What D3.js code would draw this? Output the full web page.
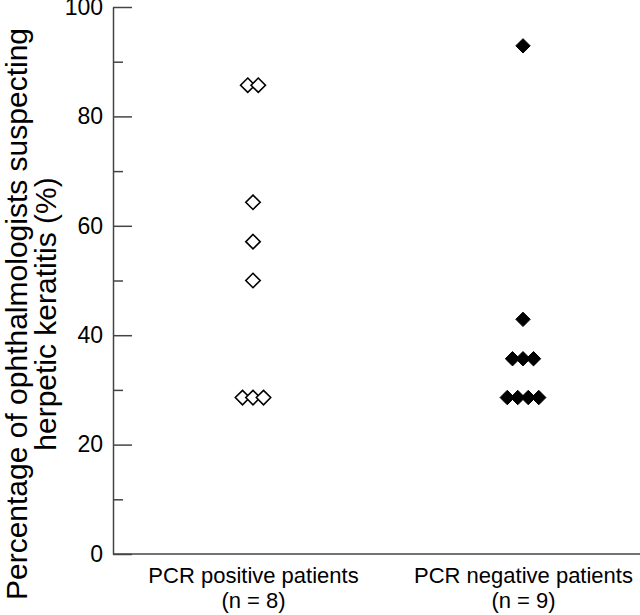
<!DOCTYPE html>
<html>
<head>
<meta charset="utf-8">
<script src="https://cdn.jsdelivr.net/npm/d3@7"></script>
<style>
  html, body { margin: 0; padding: 0; background: #fff; }
  svg { display: block; }
  text { font-family: "Liberation Sans", Arial, Helvetica, sans-serif; fill: #000; }
</style>
</head>
<body>
<svg id="chart" width="640" height="615"></svg>
<script>
// ---- data ----
const categories = ["PCR positive patients", "PCR negative patients"];
const groupN = ["(n = 8)", "(n = 9)"];
const positiveValues = [85.7, 85.7, 64.3, 57.1, 50.0, 28.6, 28.6, 28.6];
const negativeValues = [92.9, 42.9, 35.7, 35.7, 35.7, 28.6, 28.6, 28.6, 28.6];
const majorTicks = [0, 20, 40, 60, 80, 100];
const minorTicks = [10, 30, 50, 70, 90];
const yTitle = ["Percentage of ophthalmologists suspecting", "herpetic keratitis (%)"];

// ---- layout ----
const svg = d3.select("#chart");
const axisX = 113, axisBottom = 554, axisTop = 7, rightEdge = 640;
const y = d3.scaleLinear().domain([0, 100]).range([axisBottom, axisTop]);
const x = d3.scalePoint().domain(categories).range([253, 523]);
const spacing = 10.5;
const half = 7.2;

// y axis (major)
const gY = svg.append("g").attr("transform", `translate(${axisX},0)`)
  .call(d3.axisLeft(y).tickValues(majorTicks).tickFormat(d3.format("d"))
    .tickSizeInner(-19).tickSizeOuter(0).tickPadding(10));
gY.select(".domain").attr("stroke", "#444").attr("stroke-width", 1.5);
gY.selectAll(".tick line").attr("stroke", "#444").attr("stroke-width", 1.5);
gY.selectAll(".tick text").style("font-size", "23px")
  .style("font-family", '"Liberation Sans", Arial, sans-serif').attr("fill", "#000");

// y axis (minor)
const gYm = svg.append("g").attr("transform", `translate(${axisX},0)`)
  .call(d3.axisLeft(y).tickValues(minorTicks).tickFormat("")
    .tickSizeInner(-10).tickSizeOuter(0));
gYm.select(".domain").remove();
gYm.selectAll(".tick line").attr("stroke", "#444").attr("stroke-width", 1.5);

// x axis line + labels
svg.append("line").attr("x1", axisX).attr("x2", rightEdge)
  .attr("y1", axisBottom).attr("y2", axisBottom)
  .attr("stroke", "#444").attr("stroke-width", 1.5);
const gX = svg.append("g").attr("transform", `translate(0,${axisBottom})`)
  .call(d3.axisBottom(x).tickSize(0).tickPadding(0).tickFormat(""));
gX.select(".domain").remove();
gX.selectAll(".tick").each(function(d, i) {
  const t = d3.select(this).append("text").attr("text-anchor", "middle")
    .style("font-size", "22px");
  t.append("tspan").attr("x", 0).attr("y", 29).text(d);
  t.append("tspan").attr("x", 0).attr("y", 54).text(groupN[i]);
});

// y title
const title = svg.append("text")
  .attr("transform", `translate(27,314) rotate(-90)`)
  .attr("text-anchor", "middle").style("font-size", "30px");
title.append("tspan").attr("x", 0).attr("y", 0).text(yTitle[0]);
title.append("tspan").attr("x", 0).attr("y", 29).text(yTitle[1]);

// points: spread duplicates horizontally
function spread(values, cat) {
  const counts = d3.rollup(values, v => v.length, v => v);
  const seen = new Map();
  return values.map(v => {
    const n = counts.get(v);
    const k = seen.get(v) || 0;
    seen.set(v, k + 1);
    return { cat, v, off: (k - (n - 1) / 2) * spacing };
  });
}
const diamond = `M0,${-half}L${half},0L0,${half}L${-half},0Z`;

svg.append("g").selectAll("path.pos")
  .data(spread(positiveValues, categories[0])).join("path")
  .attr("class", "pos")
  .attr("d", diamond)
  .attr("transform", d => `translate(${x(d.cat) + d.off},${y(d.v)})`)
  .attr("fill", "#fff").attr("stroke", "#000").attr("stroke-width", 1.6);

svg.append("g").selectAll("path.neg")
  .data(spread(negativeValues, categories[1])).join("path")
  .attr("class", "neg")
  .attr("d", diamond)
  .attr("transform", d => `translate(${x(d.cat) + d.off},${y(d.v)})`)
  .attr("fill", "#000").attr("stroke", "#000").attr("stroke-width", 1);
</script>
</body>
</html>
